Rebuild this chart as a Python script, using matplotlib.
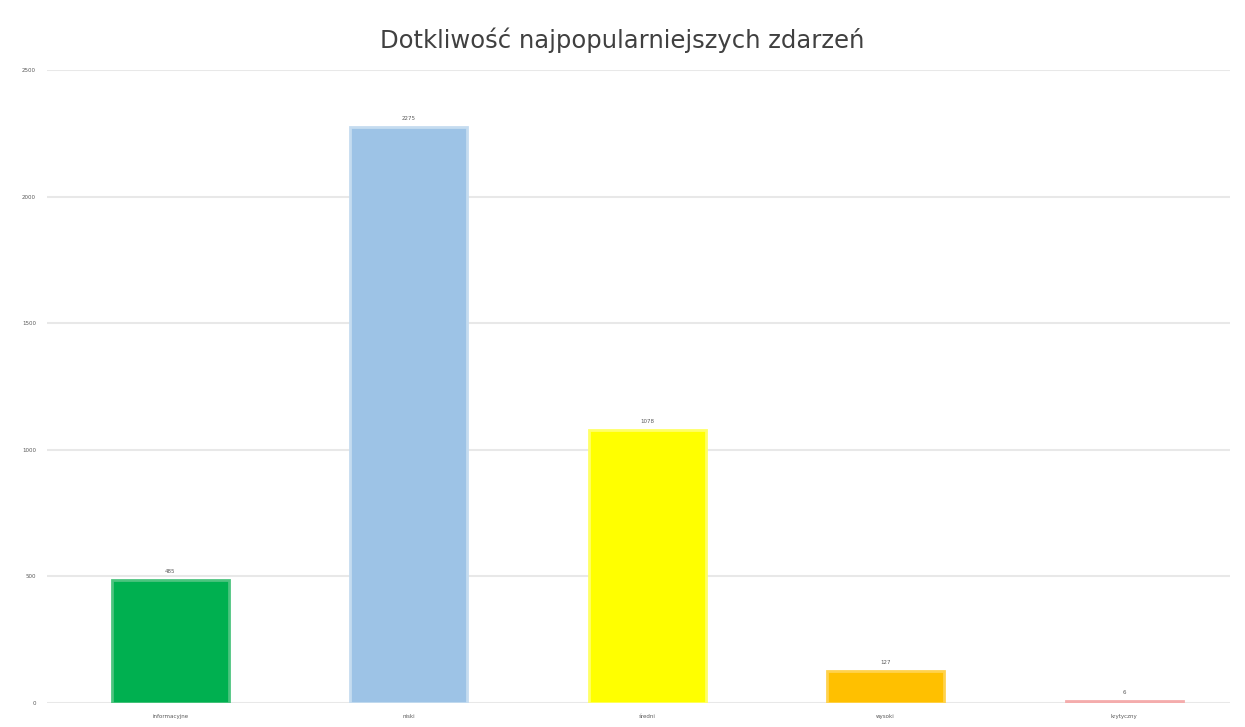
import matplotlib.pyplot as plt
import numpy as np

# severity levels and counts
categories = ['informacyjne', 'niski', 'średni', 'wysoki', 'krytyczny']
values = [485, 2275, 1078, 127, 6]
colors = ['#00B050', '#9DC3E6', '#FFFF00', '#FFC000', '#F4A6A6']
edge_colors = ['#4CC47F', '#C5DCF0', '#FFFF66', '#FFD24D', '#F4ACAC']
yticks = [0, 500, 1000, 1500, 2000, 2500]

fig = plt.figure(figsize=(12.45, 7.27), dpi=100)
ax = fig.add_axes([47 / 1245, 1 - 703 / 727, 1183 / 1245, 633 / 727])

x = np.arange(len(categories))
ax.bar(x, values, width=0.49, color=colors, edgecolor=edge_colors,
       linewidth=2, zorder=3)

for xi, v in zip(x, values):
    ax.text(xi, v + 25, str(v), ha='center', va='bottom', fontsize=4, color='#595959')

ax.set_xlim(-0.516, 4.444)
ax.set_ylim(0, 2500)
ax.set_yticks(yticks)
ax.set_yticklabels([str(t) for t in yticks], fontsize=4, color='#595959')
ax.set_xticks(x)
ax.set_xticklabels(categories, fontsize=4, color='#595959')
ax.tick_params(length=0, pad=8)
ax.grid(axis='y', color='#E8E8E8', linewidth=1.5, zorder=0)
for s in ax.spines.values():
    s.set_visible(False)

fig.text(0.5, 1 - 40 / 727, 'Dotkliwość najpopularniejszych zdarzeń',
         ha='center', va='center', fontsize=17.5, color='#404040')

fig.savefig('out.png', dpi=100, facecolor='white')
